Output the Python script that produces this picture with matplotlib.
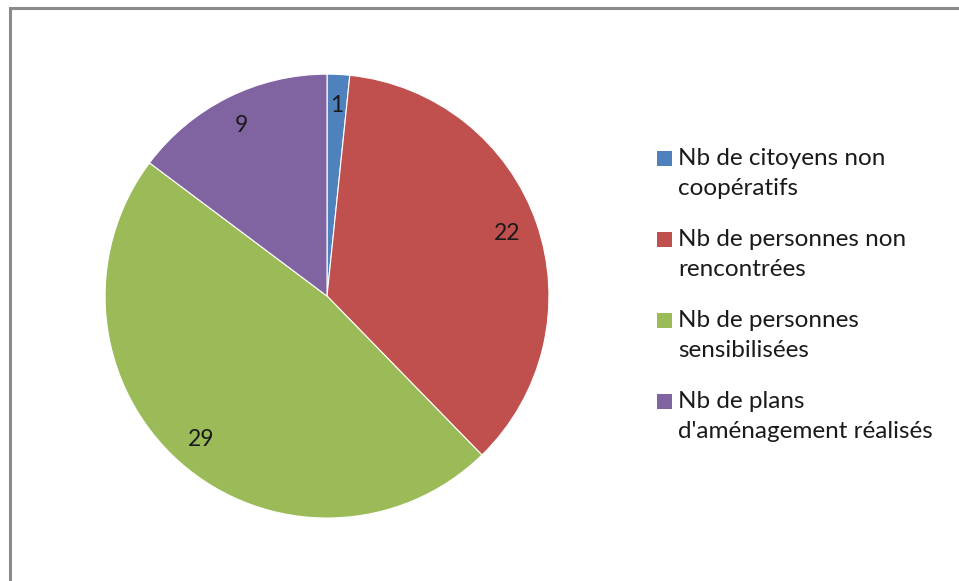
import matplotlib.pyplot as plt
from matplotlib.lines import Line2D
from matplotlib.patches import Rectangle

# données du graphique
categories = ["Nb de citoyens non\ncoopératifs",
              "Nb de personnes non\nrencontrées",
              "Nb de personnes\nsensibilisées",
              "Nb de plans\nd'aménagement réalisés"]
valeurs = [1, 22, 29, 9]
couleurs = ["#4F81BD", "#C0504D", "#9BBB59", "#8064A2"]

plt.rcParams['font.family'] = ['Lato', 'DejaVu Sans']

W, H = 959, 581
fig = plt.figure(figsize=(W / 100, H / 100), dpi=100)
ax = fig.add_axes([0.1095, 0.1084, 0.463, 0.764])

total = sum(valeurs)
wedges, _, autotexts = ax.pie(
    valeurs, colors=couleurs, startangle=90, counterclock=False,
    autopct=lambda p: f"{round(p * total / 100):d}", pctdistance=0.86,
    wedgeprops=dict(edgecolor="white", linewidth=0.8),
    textprops=dict(fontsize=16.5, color="#1a1a1a"))
ax.set_aspect('equal')
ax.set_xlim(-1.0, 1.0)
ax.set_ylim(-1.0, 1.0)

# légende à droite : carré aligné sur la première ligne du texte
for i, (lab, c) in enumerate(zip(categories, couleurs)):
    yc = 158 + i * 81  # centre de la première ligne, en pixels depuis le haut
    fig.add_artist(Rectangle((657 / W, 1 - (yc + 8) / H), 15 / W, 15 / H,
                             facecolor=c, edgecolor='none',
                             transform=fig.transFigure))
    fig.text(678 / W, 1 - (yc - 10) / H, lab, ha='left', va='top',
             fontsize=17.5, color="#1a1a1a", linespacing=1.55)

# cadre gris du graphique (coupé à droite et en bas)
x0 = 9.5 / W
y0 = 1 - 8 / H
fig.add_artist(Line2D([x0, 1.0], [y0, y0], color="#8a8a8a", linewidth=2.2,
                      transform=fig.transFigure))
fig.add_artist(Line2D([x0, x0], [0.0, y0], color="#8a8a8a", linewidth=2.2,
                      transform=fig.transFigure))

fig.savefig("out.png", dpi=100, facecolor="white")
